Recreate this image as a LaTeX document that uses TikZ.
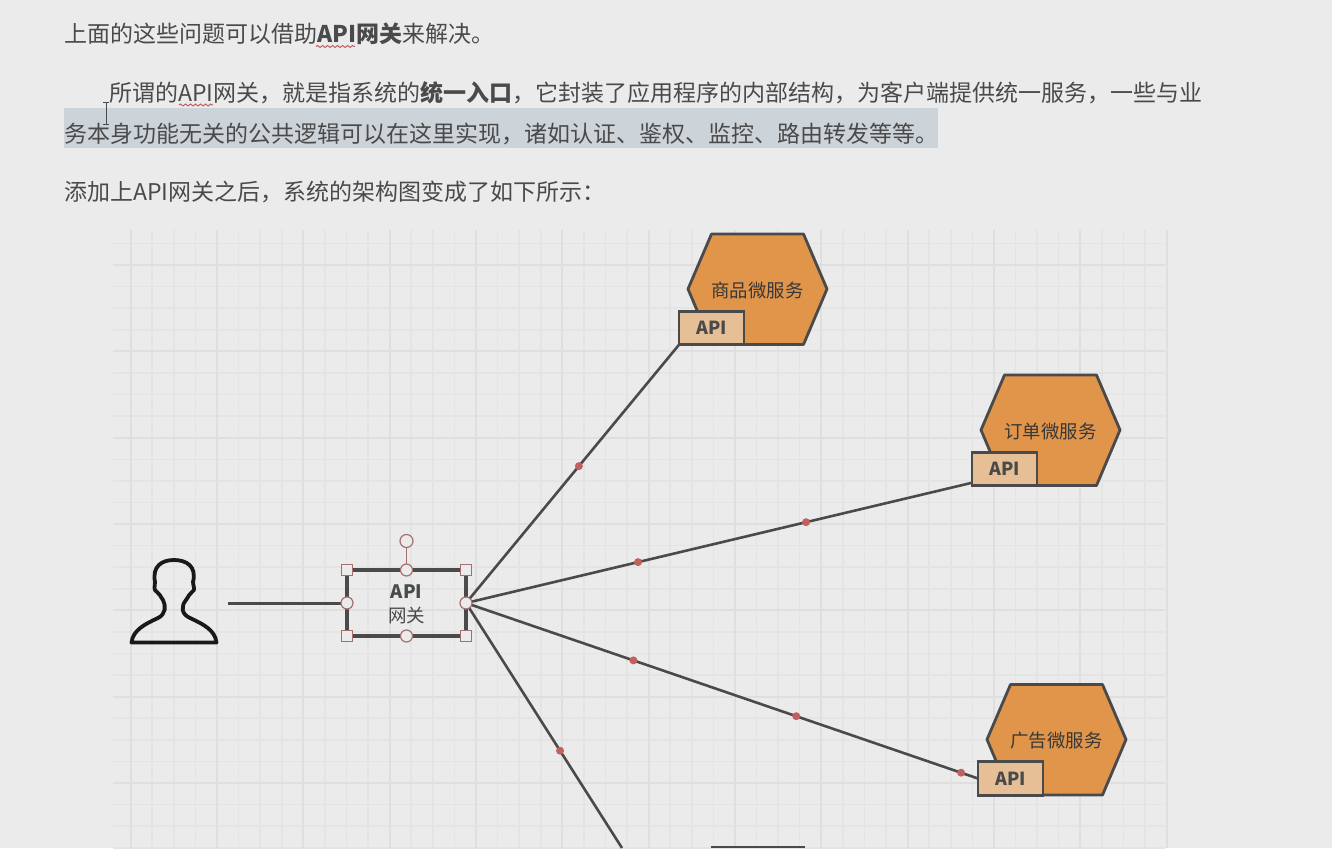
\documentclass[tikz,border=0pt]{standalone}
\usepackage{fontspec}
\setmainfont{Noto Sans CJK SC}
\usetikzlibrary{decorations.pathmorphing}

\definecolor{pagebg}{HTML}{EBEBEB}
\definecolor{selbg}{HTML}{CDD4D9}
\definecolor{inkgray}{HTML}{4A4A4A}
\definecolor{hexfill}{HTML}{E0954B}
\definecolor{apifill}{HTML}{E6BF96}
\definecolor{handle}{HTML}{A56F6F}
\definecolor{dotred}{HTML}{C2605F}
\definecolor{gridminor}{HTML}{E4E4E4}
\definecolor{gridmajor}{HTML}{DFDFDF}

\tikzset{
    para/.style = {anchor=west, inner sep=0, text=inkgray, font=\fontsize{23}{26}\selectfont},
    hexbody/.style = {draw=inkgray, fill=hexfill, line width=2.8pt, line join=round},
    hextext/.style = {inner sep=0, text=inkgray!75!black, font=\fontsize{18.4}{22}\selectfont},
    apibox/.style = {draw=inkgray, fill=apifill, line width=2.8pt, minimum width=65pt, minimum height=33.5pt,
        inner sep=0, outer sep=0, text=inkgray, font=\fontsize{18}{22}\selectfont\bfseries},
    link/.style = {draw=inkgray, line width=2.6pt},
    middot/.style = {circle, fill=dotred, minimum size=8pt, inner sep=0, pos=#1},
    sqhandle/.style = {draw=handle, fill=pagebg, line width=1.2pt, minimum size=11pt, inner sep=0},
    cirhandle/.style = {circle, draw=handle, fill=pagebg, line width=1.2pt, minimum size=12pt, inner sep=0},
    squiggle/.style = {draw=dotred, line width=1pt, decorate, decoration={snake, amplitude=1pt, segment length=5pt}},
}

% hexagon with its API tab: name, centre x, centre y, label
\newcommand{\hexsvc}[4]{
    \draw [hexbody] (#2-46,#3-55) -- (#2+46,#3-55) -- (#2+69.5,#3) -- (#2+46,#3+55.5)
        -- (#2-46,#3+55.5) -- (#2-69.5,#3) -- cycle;
    \node (#1) [hextext] at (#2,{#3+1.5}) {#4};
    \node (#1api) [apibox] at ({#2-46},{#3+39}) {\raisebox{-1pt}{API}};
}

\begin{document}
\begin{tikzpicture} [x=1pt, y=-1pt]
    \useasboundingbox (0,0) rectangle (1332,848);
    \fill [pagebg] (0,0) rectangle (1332,848);

    % grid
    \foreach \i in {0,...,48} {
        \draw [color=gridminor, line width=1.6pt] ({130.7+21.58*\i},230) -- ({130.7+21.58*\i},848);
    }
    \foreach \i in {0,...,28} {
        \draw [color=gridminor, line width=1.6pt] (113,{243.5+21.58*\i}) -- (1165,{243.5+21.58*\i});
    }
    \foreach \i in {0,...,12} {
        \draw [color=gridmajor, line width=2pt] ({130.7+86.32*\i},230) -- ({130.7+86.32*\i},848);
    }
    \foreach \i in {0,...,6} {
        \draw [color=gridmajor, line width=2pt] (113,{265.1+86.32*\i}) -- (1165,{265.1+86.32*\i});
    }

    % text above the drawing
    \fill [selbg] (64,108) rectangle (938,148);
    \node (line1) [para] at (64,34) {上面的这些问题可以借助\textbf{API网关}来解决。};
    \node (line2) [para] at (109,93) {所谓的API网关，就是指系统的\textbf{统一入口}，它封装了应用程序的内部结构，为客户端提供统一服务，一些与业};
    \node (line3) [para] at (64,134) {务本身功能无关的公共逻辑可以在这里实现，诸如认证、鉴权、监控、路由转发等等。};
    \node (line4) [para] at (64,192) {添加上API网关之后，系统的架构图变成了如下所示：};
    \draw [squiggle] (316,46.5) -- (355,46.5);
    \draw [squiggle] (179,105) -- (213,105);
    \draw [color=inkgray, line width=1pt] (106,103) -- (106,125)
        (103,103) -- (109,103) (103,125) -- (109,125);

    % services
    \hexsvc{goods}{757.5}{289}{商品微服务}
    \hexsvc{order}{1050.5}{430}{订单微服务}
    \hexsvc{adv}{1056.5}{739.5}{广告微服务}
    \draw [link, line width=2.4pt] (711,847) -- (805,847);

    % gateway
    \node (gate) [draw=inkgray, line width=3.2pt, minimum width=119pt, minimum height=66pt,
        inner sep=0, outer sep=0] at (406.5,603) {};
    \node (gatetext) [inner sep=0, align=center, text=inkgray, font=\fontsize{18.5}{23.5}\selectfont]
        at (406.5,604.5) {\textbf{API}\\网关};

    % person
    \draw [color=black!90, line width=3.8pt, line join=round] (131.5,642.5)
        .. controls (133,630) and (145,624) .. (158,618)
        .. controls (166,614) and (166,606) .. (163,600)
        .. controls (160,596) and (160,594) .. (157,592)
        .. controls (153,590) and (155,586) .. (155,582)
        .. controls (152,566) and (162,560) .. (174,560)
        .. controls (186,560) and (197,566) .. (193,582)
        .. controls (193,586) and (196,590) .. (192,592)
        .. controls (189,594) and (189,596) .. (186,600)
        .. controls (181,606) and (181,614) .. (190,618)
        .. controls (203,624) and (215,630) .. (216.5,642.5)
        -- cycle;

    % connectors
    \coordinate (user) at (228,603);
    \coordinate (lower) at (622,848);
    \draw [link, line width=3pt] (user) -- (gate.west);
    \path [link]
    (gate.east) edge node [middot=.53] (d1) {} (goodsapi.south west)
    (gate.east) edge node [middot=.34] (d2) {} node [middot=.672] (d3) {} ([yshift=3pt]orderapi.south west)
    (gate.east) edge node [middot=.327] (d4) {} node [middot=.645] (d5) {} node [middot=.967] (d6) {} (advapi.west)
    (gate.east) edge node [middot=.603] (d7) {} (lower)
    ;

    % selection handles
    \coordinate (rot) at (406.5,541);
    \draw [color=handle, line width=1.2pt] (rot) -- (gate.north);
    \node (rothandle) [cirhandle, minimum size=13pt] at (rot) {};
    \foreach \a/\n in {north west/nw, north east/ne, south west/sw, south east/se} {
        \node (h\n) [sqhandle] at (gate.\a) {};
    }
    \foreach \a/\n in {north/n, south/s, west/w, east/e} {
        \node (h\n) [cirhandle] at (gate.\a) {};
    }
\end{tikzpicture}
\end{document}
